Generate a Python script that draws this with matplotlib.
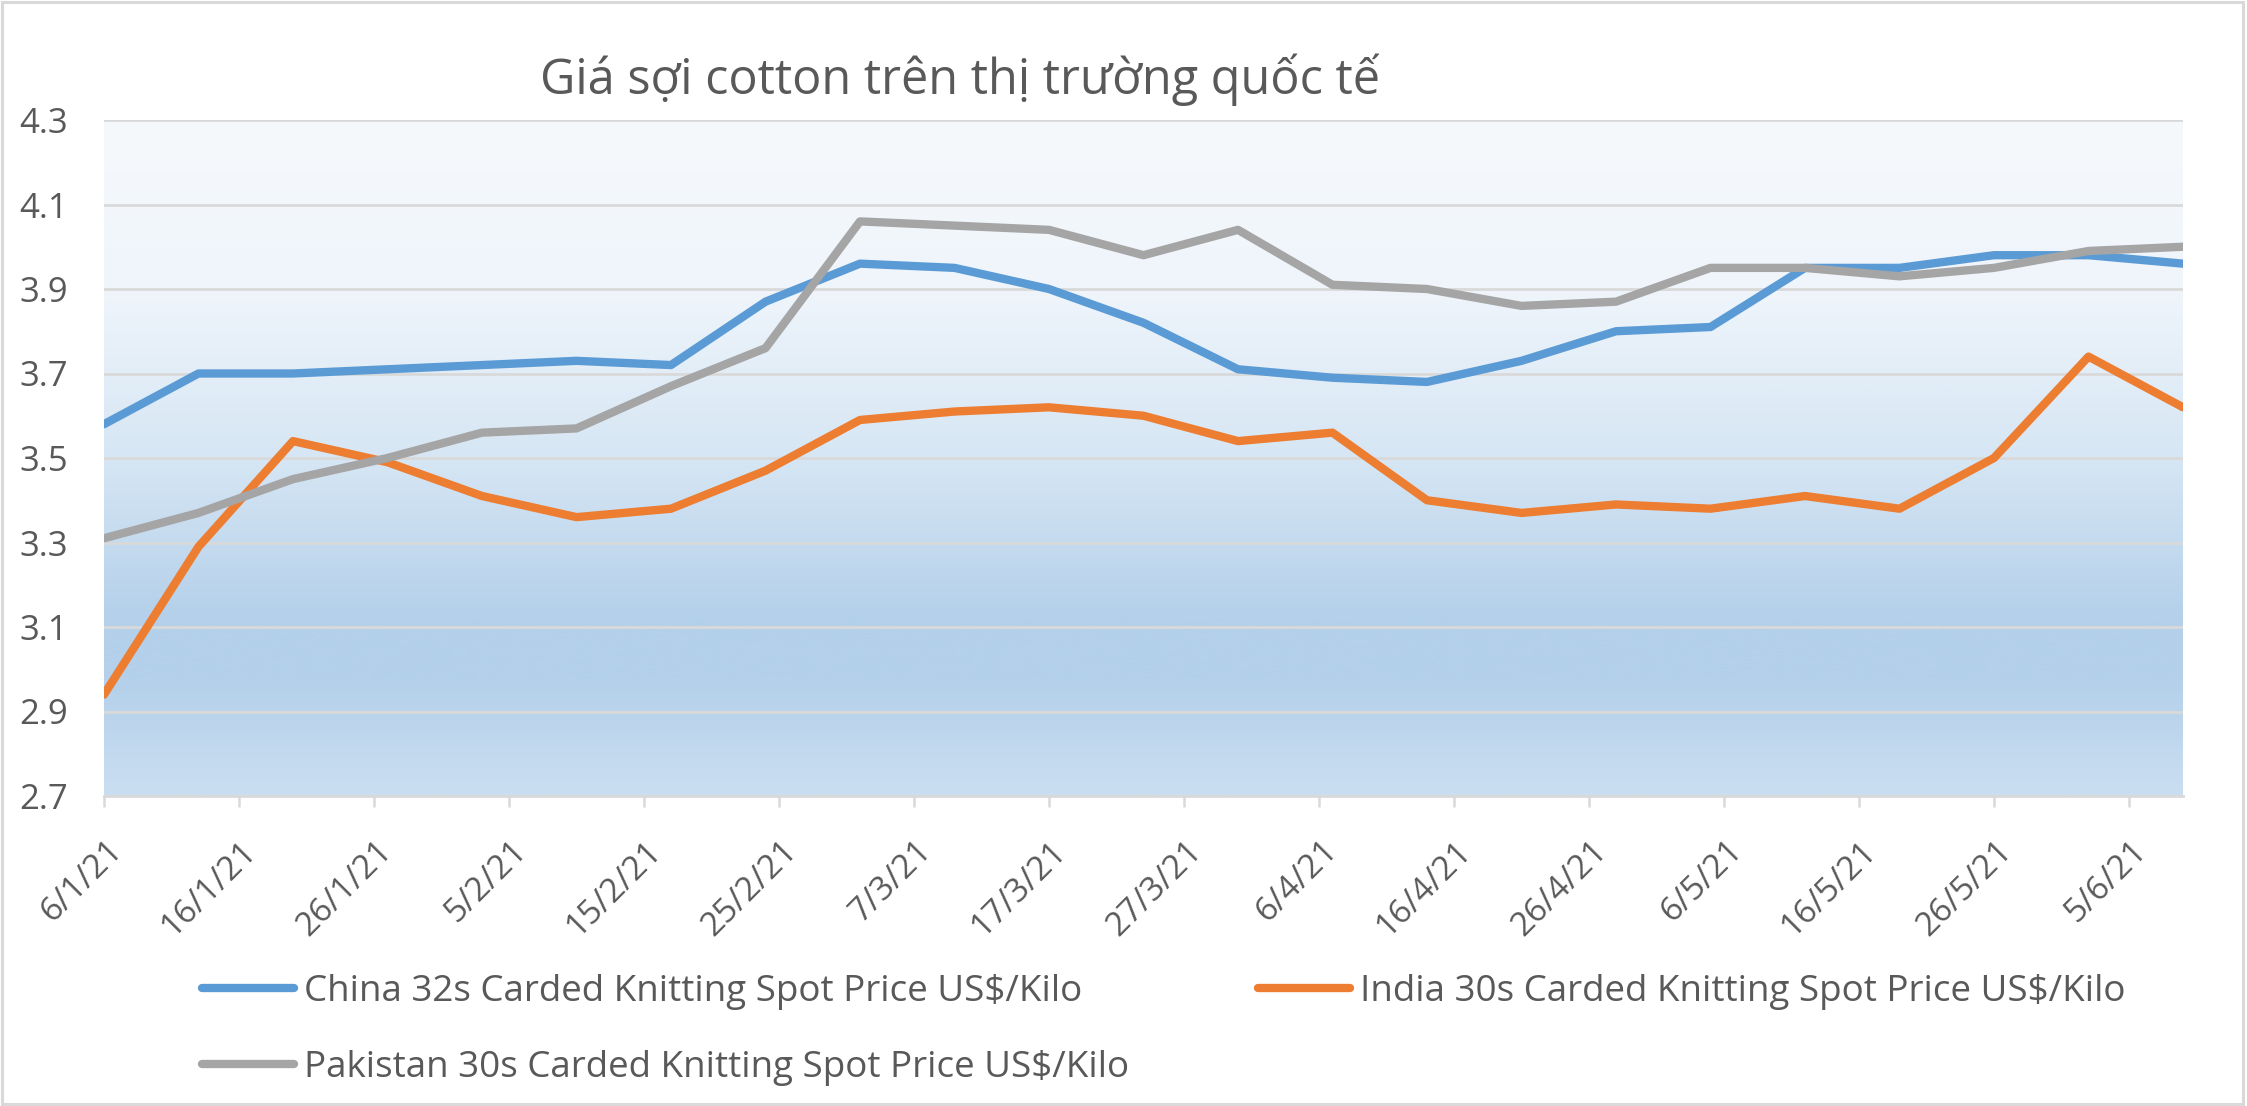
import matplotlib
matplotlib.use("Agg")
import matplotlib.pyplot as plt
import matplotlib.dates as mdates
from matplotlib.colors import LinearSegmentedColormap
from matplotlib.transforms import ScaledTranslation
from matplotlib.patches import Rectangle
import numpy as np
import datetime as dt

plt.rcParams['font.family'] = ['Open Sans', 'DejaVu Sans']

# ---- data ----
dates = ["2021-01-06", "2021-01-13", "2021-01-20", "2021-01-27", "2021-02-03",
         "2021-02-10", "2021-02-17", "2021-02-24", "2021-03-03", "2021-03-10",
         "2021-03-17", "2021-03-24", "2021-03-31", "2021-04-07", "2021-04-14",
         "2021-04-21", "2021-04-28", "2021-05-05", "2021-05-12", "2021-05-19",
         "2021-05-26", "2021-06-02", "2021-06-09"]
china = [3.58, 3.70, 3.70, 3.71, 3.72, 3.73, 3.72, 3.87, 3.96, 3.95, 3.90, 3.82,
         3.71, 3.69, 3.68, 3.73, 3.80, 3.81, 3.95, 3.95, 3.98, 3.98, 3.96]
india = [2.94, 3.29, 3.54, 3.49, 3.41, 3.36, 3.38, 3.47, 3.59, 3.61, 3.62, 3.60,
         3.54, 3.56, 3.40, 3.37, 3.39, 3.38, 3.41, 3.38, 3.50, 3.74, 3.62]
pakistan = [3.31, 3.37, 3.45, 3.50, 3.56, 3.57, 3.67, 3.76, 4.06, 4.05, 4.04, 3.98,
            4.04, 3.91, 3.90, 3.86, 3.87, 3.95, 3.95, 3.93, 3.95, 3.99, 4.00]
series_names = ["China 32s Carded Knitting Spot Price US$/Kilo",
                "India 30s Carded Knitting Spot Price US$/Kilo",
                "Pakistan 30s Carded Knitting Spot Price US$/Kilo"]
series_colors = ["#5B9BD5", "#ED7D31", "#A5A5A5"]
tick_dates = ["2021-01-06", "2021-01-16", "2021-01-26", "2021-02-05", "2021-02-15",
              "2021-02-25", "2021-03-07", "2021-03-17", "2021-03-27", "2021-04-06",
              "2021-04-16", "2021-04-26", "2021-05-06", "2021-05-16", "2021-05-26",
              "2021-06-05"]
tick_labels = ["6/1/21", "16/1/21", "26/1/21", "5/2/21", "15/2/21", "25/2/21",
               "7/3/21", "17/3/21", "27/3/21", "6/4/21", "16/4/21", "26/4/21",
               "6/5/21", "16/5/21", "26/5/21", "5/6/21"]
y_ticks = [2.7, 2.9, 3.1, 3.3, 3.5, 3.7, 3.9, 4.1, 4.3]
title = "Giá sợi cotton trên thị trường quốc tế"

# ---- figure ----
W, H = 2247, 1106
fig = plt.figure(figsize=(W / 100, H / 100), dpi=100)
fig.patch.set_facecolor("white")
fig.patches.append(Rectangle((0.001, 0.002), 0.997, 0.996, transform=fig.transFigure,
                             fill=False, edgecolor="#D9D9D9", linewidth=2.2))

left, right, top, bottom = 104, 2183, 120, 796
ax = fig.add_axes([left / W, 1 - bottom / H, (right - left) / W, (bottom - top) / H])

x = mdates.date2num([dt.date.fromisoformat(d) for d in dates])
xt = mdates.date2num([dt.date.fromisoformat(d) for d in tick_dates])

# gradient background
cmap = LinearSegmentedColormap.from_list(
    "bg", [(0.0, "#F6F9FC"), (0.25, "#EFF5FB"), (0.5, "#D6E6F4"), (0.74, "#B4D0EA"),
           (0.83, "#B4D0EA"), (1.0, "#CADEF1")])
grad = np.linspace(0, 1, 400).reshape(-1, 1)
ax.imshow(grad, cmap=cmap, aspect="auto", extent=[0, 1, 0, 1],
          transform=ax.transAxes, origin="upper", zorder=0, interpolation="bilinear")

for vals, name, col in zip([china, india, pakistan], series_names, series_colors):
    ax.plot(x, vals, color=col, lw=6.0, label=name, solid_capstyle="round",
            solid_joinstyle="round", zorder=3)

ax.set_xlim(x[0], x[-1])
ax.set_ylim(2.7, 4.3)
ax.set_yticks(y_ticks)
ax.set_yticklabels([f"{v:.1f}" for v in y_ticks])
ax.yaxis.grid(True, color="#D9D9D9", lw=2.0, zorder=1)
ax.set_axisbelow(False)
for gl in ax.get_ygridlines():
    gl.set_zorder(1)
ax.tick_params(axis="y", length=0, pad=26, labelsize=25, labelcolor="#595959")
ax.set_xticks(xt)
ax.set_xticklabels(tick_labels, rotation=45, ha="right", va="center",
                   rotation_mode="anchor")
ax.tick_params(axis="x", length=8, width=1.8, color="#D9D9D9", pad=28,
               labelsize=24, labelcolor="#595959", direction="out")
off = ScaledTranslation(0.13, 0, fig.dpi_scale_trans)
for lab in ax.get_xticklabels():
    lab.set_transform(lab.get_transform() + off)

for s in ["top", "right", "left"]:
    ax.spines[s].set_visible(False)
ax.spines["bottom"].set_color("#D9D9D9")
ax.spines["bottom"].set_linewidth(2.0)
ax.spines["bottom"].set_zorder(2)

fig.text(960 / W, 1 - 80 / H, title, ha="center", va="center", fontsize=35,
         color="#595959")

h, l = ax.get_legend_handles_labels()
order = [0, 2, 1]
leg = fig.legend([h[i] for i in order], [l[i] for i in order], ncol=2,
                 loc="center left", bbox_to_anchor=(202 / W, 1 - 1030 / H),
                 frameon=False, fontsize=26.5, handlelength=2.5, handletextpad=0.27,
                 columnspacing=3.5, labelspacing=1.1, labelcolor="#595959",
                 borderaxespad=0, borderpad=0)

fig.savefig("out.png", dpi=100)
